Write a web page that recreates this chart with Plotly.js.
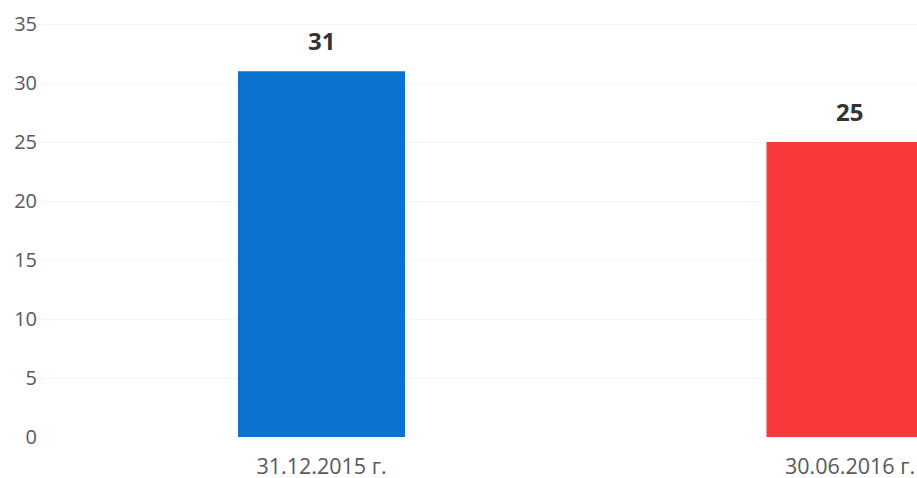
<!DOCTYPE html>
<html>
<head>
<meta charset="utf-8">
<script src="https://cdn.plot.ly/plotly-3.0.1.min.js"></script>
<style>html,body{margin:0;padding:0;background:#fff;}#chart{width:917px;height:478px;}</style>
</head>
<body>
<div id="chart"></div>
<script>
const categories = ["31.12.2015 г.", "30.06.2016 г."];
const values = [31, 25];
const barColors = ["#0A72CF", "#F83A3D"];
const yTicks = [0, 5, 10, 15, 20, 25, 30, 35];

const trace = {
  type: "bar",
  x: categories,
  y: values,
  width: 0.316,
  marker: { color: barColors },
  hoverinfo: "none"
};

const annotations = categories.map((c, i) => ({
  x: c, y: values[i], xref: "x", yref: "y",
  text: "<b>" + values[i] + "</b>",
  showarrow: false, yanchor: "bottom", yshift: 12,
  font: { family: "Open Sans, sans-serif", size: 24, color: "#333333" }
}));

const layout = {
  width: 917, height: 478,
  margin: { l: 38, r: 0, t: 14, b: 41 },
  paper_bgcolor: "#ffffff", plot_bgcolor: "#ffffff",
  showlegend: false,
  font: { family: "Open Sans, sans-serif", size: 20, color: "#595959" },
  xaxis: {
    type: "category",
    range: [-0.5364, 1.1268],
    showgrid: false, zeroline: false, showline: false, ticks: "",
    ticklabelstandoff: 14,
    tickfont: { size: 21.5, color: "#595959" }
  },
  yaxis: {
    range: [0, 35.85],
    tickvals: yTicks,
    showgrid: true, gridcolor: "#f6f6f6", gridwidth: 1,
    zeroline: false, showline: false, ticks: "",
    tickfont: { size: 20, color: "#595959" }
  },
  annotations: annotations
};

Plotly.newPlot("chart", [trace], layout, { displayModeBar: false, staticPlot: true });
</script>
</body>
</html>
